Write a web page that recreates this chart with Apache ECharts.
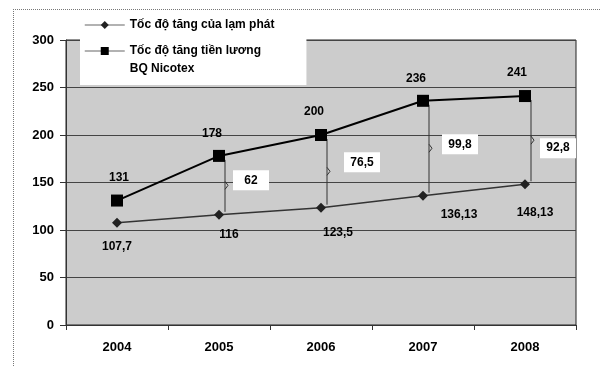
<!DOCTYPE html>
<html><head><meta charset="utf-8">
<script src="https://cdn.jsdelivr.net/npm/echarts@6/dist/echarts.min.js"></script>
<style>html,body{margin:0;padding:0;background:#fff}#c{width:600px;height:367px}</style>
</head><body><div id="c"></div>
<script>
// ---- data ----
const years = ['2004', '2005', '2006', '2007', '2008'];
const inflation = [107.7, 116, 123.5, 136.13, 148.13];
const salary = [131, 178, 200, 236, 241];
const gapYears = ['2005', '2006', '2007', '2008'];
const gaps = [62, 76.5, 99.8, 92.8];
const yMin = 0, yMax = 300, yStep = 50;
const nameInflation = 'Tốc độ tăng của lạm phát';
const nameSalary = 'Tốc độ tăng tiền lương\nBQ Nicotex';

// ---- style (label placement) ----
const infLabelOffset = [[0, 24], [10, 20], [17, 25], [36, 19], [10, 28]];
const salLabelOffset = [[2, -23], [-7, -22], [-7, -23], [-7, -22], [-8, -23]];
const gapBoxOffset = [[32, -5], [41, -9], [37, -4], [33, 8]];

const FONT = '"Liberation Sans", Arial, sans-serif';
const fmt = v => String(v).replace('.', ',');

const chart = echarts.init(document.getElementById('c'), null, {renderer: 'canvas'});

const gapData = gapYears.map((y, i) => {
  const k = years.indexOf(y);
  return [k, salary[k], inflation[k], gaps[i], i];
});

chart.setOption({
  animation: false,
  backgroundColor: '#fff',
  textStyle: {fontFamily: FONT},
  graphic: [
    {type: 'line', shape: {x1: 13, y1: 9.5, x2: 600, y2: 9.5}, style: {stroke: '#777', lineWidth: 1, lineDash: [1, 1]}, z: 0},
    {type: 'line', shape: {x1: 13.5, y1: 9, x2: 13.5, y2: 367}, style: {stroke: '#777', lineWidth: 1, lineDash: [1, 1]}, z: 0}
  ],
  grid: {
    left: 66, right: 24, top: 40, bottom: 42,
    show: true, backgroundColor: '#cccccc', borderColor: '#222', borderWidth: 1
  },
  legend: {
    orient: 'vertical',
    left: 80, top: 10,
    backgroundColor: '#fff',
    padding: [6, 32, 7, 4],
    itemGap: -10,
    itemWidth: 40, itemHeight: 10,
    data: [nameInflation, nameSalary],
    formatter: name => name === nameSalary ? '\n' + name : name,
    textStyle: {fontFamily: FONT, fontSize: 12, fontWeight: 'bold', color: '#000', lineHeight: 18},
    lineStyle: {color: '#999', width: 1.5}
  },
  xAxis: {
    type: 'category',
    data: years,
    boundaryGap: true,
    axisLine: {lineStyle: {color: '#333', width: 1}},
    axisTick: {show: true, length: 5, lineStyle: {color: '#333'}},
    axisLabel: {color: '#000', fontSize: 13, fontWeight: 'bold', margin: 16, fontFamily: FONT},
    splitLine: {show: false}
  },
  yAxis: {
    type: 'value',
    min: yMin, max: yMax, interval: yStep,
    axisLine: {show: true, lineStyle: {color: '#333', width: 1}},
    axisTick: {show: true, length: 6, lineStyle: {color: '#333'}},
    axisLabel: {color: '#000', fontSize: 13, fontWeight: 'bold', margin: 12, fontFamily: FONT},
    splitLine: {show: true, lineStyle: {color: '#444', width: 1}}
  },
  series: [
    {
      name: nameInflation,
      type: 'line',
      data: inflation.map((v, i) => ({value: v, label: {offset: infLabelOffset[i]}})),
      symbol: 'diamond', symbolSize: 10,
      itemStyle: {color: '#222'},
      lineStyle: {color: '#333', width: 1.5},
      label: {show: true, position: 'inside', formatter: p => fmt(p.value),
        color: '#000', fontSize: 12, fontWeight: 'bold', fontFamily: FONT},
      z: 3
    },
    {
      name: nameSalary,
      type: 'line',
      data: salary.map((v, i) => ({value: v, label: {offset: salLabelOffset[i]}})),
      symbol: 'rect', symbolSize: 12,
      itemStyle: {color: '#000'},
      lineStyle: {color: '#000', width: 2},
      label: {show: true, position: 'inside', formatter: p => fmt(p.value),
        color: '#000', fontSize: 12, fontWeight: 'bold', fontFamily: FONT},
      z: 3
    },
    {
      name: 'gap',
      type: 'custom',
      data: gapData,
      z: 2,
      renderItem: function (params, api) {
        const top = api.coord([api.value(0), api.value(1)]);
        const bot = api.coord([api.value(0), api.value(2)]);
        const idx = api.value(4);
        const x = top[0] + 6;
        const my = (top[1] + bot[1]) / 2;
        const off = gapBoxOffset[idx];
        const cx = top[0] + off[0], cy = my + off[1];
        const w = 36, h = 20;
        return {
          type: 'group',
          children: [
            {type: 'line', shape: {x1: x, y1: top[1] + 4, x2: x, y2: bot[1] - 3},
              style: {stroke: '#333', lineWidth: 1}},
            {type: 'polyline', shape: {points: [[x, my - 4], [x + 3, my], [x, my + 4]]},
              style: {stroke: '#333', lineWidth: 1, fill: null}},
            {type: 'rect', shape: {x: cx - w / 2, y: cy - h / 2, width: w, height: h},
              style: {fill: '#fff', stroke: null}},
            {type: 'text', x: cx, y: cy,
              style: {text: fmt(api.value(3)), fill: '#000', font: 'bold 12px ' + FONT,
                align: 'center', verticalAlign: 'middle'}}
          ]
        };
      }
    }
  ]
});
</script>
</body></html>
